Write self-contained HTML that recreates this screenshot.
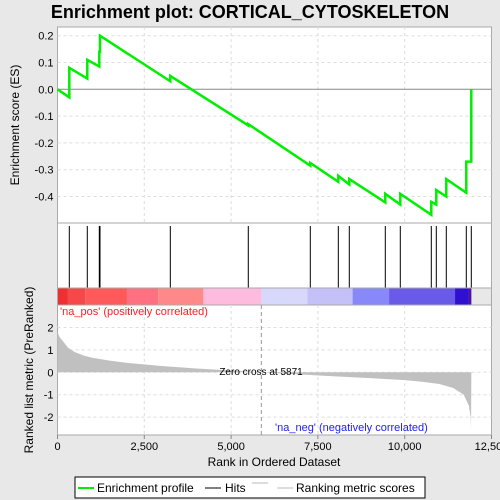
<!DOCTYPE html>
<html><head><meta charset="utf-8"><style>
body{margin:0;background:#e8e8e8;font-family:"Liberation Sans",sans-serif;}
svg{display:block}
</style></head><body>
<svg width="500" height="500" xmlns="http://www.w3.org/2000/svg" id="chart">
<text x="250" y="18" text-anchor="middle" font-size="18" font-weight="bold" fill="#000">Enrichment plot: CORTICAL_CYTOSKELETON</text>
<g id="es-panel"></g>
<g id="hits-panel"></g>
<g id="metric-panel"></g>
<text x="19" y="125" transform="rotate(-90 19 125)" text-anchor="middle" font-size="12">Enrichment score (ES)</text>
<text x="33" y="370" transform="rotate(-90 33 370)" text-anchor="middle" font-size="12">Ranked list metric (PreRanked)</text>
<text x="274" y="466" text-anchor="middle" font-size="12">Rank in Ordered Dataset</text>
<g>
<rect x="75" y="477" width="350" height="21" fill="#fff" stroke="#000"/>
<line x1="78" y1="488" x2="94" y2="488" stroke="#00ee00" stroke-width="2"/>
<text x="97" y="492" font-size="12">Enrichment profile</text>
<line x1="205" y1="488" x2="221" y2="488" stroke="#000"/>
<text x="225" y="492" font-size="12">Hits</text>
<line x1="252" y1="483" x2="268" y2="483" stroke="#bbb"/>
<line x1="277" y1="488" x2="293" y2="488" stroke="#bbb"/>
<text x="296" y="492" font-size="12">Ranking metric scores</text>
</g>
</svg>
<script>
const hitRanks=[340,858,1204,1224,3249,5495,7281,8088,8404,9441,9873,10766,10910,11198,11774,11918];
const esBefore=[-0.03,0.04,0.085,0.14,0.03,-0.135,-0.285,-0.345,-0.355,-0.422,-0.43,-0.468,-0.43,-0.40,-0.386,-0.27];
const esAfter=[0.08,0.11,0.14,0.20,0.05,-0.13,-0.275,-0.323,-0.335,-0.39,-0.39,-0.42,-0.376,-0.335,-0.27,0.0];
const metricRanks=[0,50,100,200,300,500,750,1000,1500,2000,3000,4000,5000,5871,7000,8000,9000,10000,10500,11000,11400,11700,11850,11900,11910,11920];
const metricVals=[1.8,1.6,1.5,1.3,1.1,0.9,0.75,0.65,0.52,0.42,0.28,0.17,0.08,0,-0.1,-0.18,-0.26,-0.35,-0.42,-0.52,-0.7,-1.0,-1.5,-2.0,-2.6,0];
const xTicks=[0,2500,5000,7500,10000,12500];
const xTickLabels=["0","2,500","5,000","7,500","10,000","12,500"];
const esTicks=[0.2,0.1,0.0,-0.1,-0.2,-0.3,-0.4];
const esTickLabels=["0.2","0.1","0.0","-0.1","-0.2","-0.3","-0.4"];
const mTicks=[2,1,0,-1,-2];
const mTickLabels=["2","1","0","-1","-2"];
const zeroCross=5871;
const NS="http://www.w3.org/2000/svg";
const L=57.5,R=491.5;
const X=r=>L+r/12500*(R-L);
const YE=v=>89.3-v*268;
const YM=v=>372.3-v*22.4;
function mk(parent,tag,attrs){const e=document.createElementNS(NS,tag);for(const k in attrs)e.setAttribute(k,attrs[k]);parent.appendChild(e);return e;}
const es=document.getElementById('es-panel'),hp=document.getElementById('hits-panel'),mp=document.getElementById('metric-panel');
mk(es,'rect',{x:L,y:27,width:R-L,height:196,fill:'#fff',stroke:'#aaa'});
mk(hp,'rect',{x:L,y:223,width:R-L,height:65,fill:'#fff',stroke:'#aaa'});
mk(mp,'rect',{x:L,y:305,width:R-L,height:130,fill:'#fff',stroke:'#aaa'});
// grids
xTicks.forEach((t,i)=>{
 if(i>0&&i<xTicks.length-1){
  let g=mk(es,'line',{x1:X(t),x2:X(t),y1:27,y2:223,stroke:'#ddd','stroke-dasharray':'3,3'});
  
  let g2=mk(mp,'line',{x1:X(t),x2:X(t),y1:305,y2:435,stroke:'#ddd','stroke-dasharray':'3,3'});
  
 }
 let tk=mk(mp,'line',{x1:X(t),x2:X(t),y1:435,y2:439,stroke:'#888'});
 
 let tl=mk(mp,'text',{x:X(t),y:450,'text-anchor':'middle','font-size':'11'});tl.textContent=xTickLabels[i];
 
});
esTicks.forEach((t,i)=>{
 let g=mk(es,'line',{x1:L,x2:R,y1:YE(t),y2:YE(t),stroke:t===0?'#888':'#ddd','stroke-dasharray':t===0?'':'3,3'});
 
 let tl=mk(es,'text',{x:L-4,y:YE(t)+4,'text-anchor':'end','font-size':'11'});tl.textContent=esTickLabels[i];
 
});
mTicks.forEach((t,i)=>{
 let g=mk(mp,'line',{x1:L,x2:R,y1:YM(t),y2:YM(t),stroke:'#ddd','stroke-dasharray':'3,3'});
 
 let tl=mk(mp,'text',{x:L-4,y:YM(t)+4,'text-anchor':'end','font-size':'11'});tl.textContent=mTickLabels[i];
 
});
// ES curve
let pts=[[X(0),YE(0)]];
hitRanks.forEach((r,i)=>{pts.push([X(r),YE(esBefore[i])]);pts.push([X(r),YE(esAfter[i])]);});
let curve=mk(es,'polyline',{points:pts.map(p=>p.join(',')).join(' '),fill:'none',stroke:'#00ee00','stroke-width':'2.5'});

// hits
hitRanks.forEach(r=>{
 let h=mk(hp,'line',{x1:X(r),x2:X(r),y1:226,y2:288,stroke:'#000','stroke-width':'1'});
 
});
// color bar
const cbStops=[0,300,800,2000,2900,4200,5871,7200,8500,9550,11450,11850,11920];
const cbColors=['#ee3030','#f54848','#ff5a5a','#ff7080','#ff8888','#ffbbdd','#d8d8fc','#c4c0f8','#8888f8','#6a5ae8','#3010d0','#5010a0'];
cbColors.forEach((c,i)=>{
 let s=mk(hp,'rect',{x:X(cbStops[i]),y:288,width:X(cbStops[i+1])-X(cbStops[i]),height:17,fill:c});
 
});
mk(hp,'rect',{x:L,y:288,width:R-L,height:17,fill:'none',stroke:'#aaa'});
// metric area
let mpts=metricRanks.map((r,i)=>X(r)+','+YM(metricVals[i]));
mpts.push(X(metricRanks[0])+','+YM(0));
let area=mk(mp,'polygon',{points:mpts.join(' '),fill:'#c0c0c0'});

let zc=mk(mp,'line',{x1:X(zeroCross),x2:X(zeroCross),y1:305,y2:435,stroke:'#999','stroke-dasharray':'4,3'});

let zt=mk(mp,'text',{x:X(zeroCross)-42,y:375,'font-size':'10'});zt.textContent='Zero cross at '+zeroCross;

let pt=mk(mp,'text',{x:60,y:315,'font-size':'11',fill:'#ff2020'});pt.textContent="'na_pos' (positively correlated)";

let nt=mk(mp,'text',{x:275,y:431,'font-size':'11',fill:'#2020ff'});nt.textContent="'na_neg' (negatively correlated)";

</script>
</body></html>
